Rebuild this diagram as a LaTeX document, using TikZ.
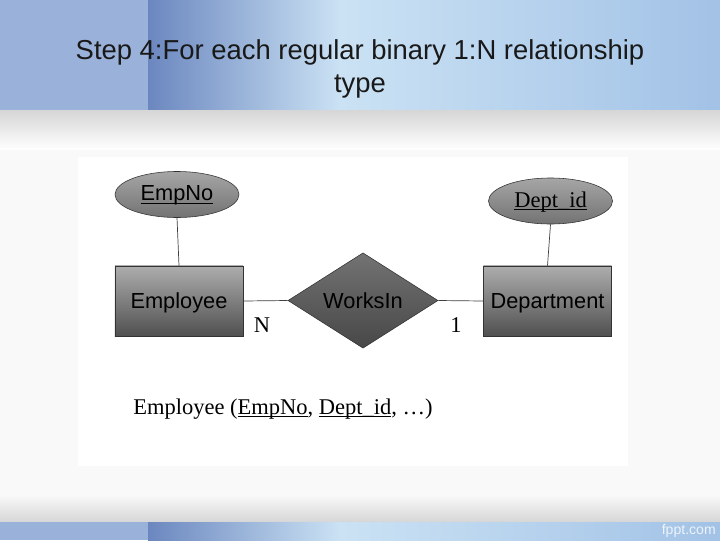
\documentclass[tikz,border=0pt]{standalone}
\usepackage{fontspec}
\setmainfont{Liberation Serif}
\setsansfont{Liberation Sans}
\usetikzlibrary{shapes.geometric}
\definecolor{bandside}{HTML}{9AB2DA}
\definecolor{banddark}{HTML}{6B87BF}
\definecolor{bandlight}{HTML}{CBE2F4}
\definecolor{bandright}{HTML}{A2C2E6}
\definecolor{pagegray}{HTML}{D6D6D6}
\definecolor{entitytop}{HTML}{ADADAD}
\definecolor{entitybottom}{HTML}{505050}
\newcommand{\entwidth}{3.2cm}
\newcommand{\entheight}{1.75cm}
\newcommand{\attwidth}{3.1cm}
\newcommand{\attheight}{1.15cm}
\newcommand{\relwidth}{3.75cm}
\newcommand{\relheight}{2.33cm}
\newcommand{\sanslabel}{\sffamily\fontsize{15.5}{18}\selectfont}
\newcommand{\seriflabel}{\rmfamily\fontsize{16}{18}\selectfont}
\newcommand{\keyattr}[1]{\underline{\raisebox{0pt}[\height][0.5pt]{#1}}}

\begin{document}
\begin{tikzpicture}[x=0.025cm,y=-0.025cm]
\tikzstyle{entity}=[draw=black!80,rectangle,top color=entitytop,bottom color=entitybottom,minimum width=\entwidth,minimum height=\entheight,inner sep=0pt,text depth=0pt,font=\sanslabel]
\tikzstyle{attrib}=[draw=black!80,ellipse,top color=black!35,bottom color=black!55,minimum width=\attwidth,minimum height=\attheight,inner sep=0pt]
\tikzstyle{relation}=[draw=black!80,diamond,top color=black!55,bottom color=black!72,minimum width=\relwidth,minimum height=\relheight,inner sep=0pt,text depth=0pt,font=\sanslabel]
\tikzstyle{link}=[draw=black!75,line width=0.5pt]

%% slide background
\useasboundingbox (0,0) rectangle (720,540);
\fill[white] (0,0) rectangle (720,540);
\fill[bandside] (0,0) rectangle (148,110);
\shade[left color=banddark,right color=bandlight] (148,0) rectangle (340,110);
\shade[left color=bandlight,right color=bandright] (340,0) rectangle (720,110);
\shade[top color=pagegray,bottom color=white] (0,110) rectangle (720,150);
\fill[gray!5] (0,150) rectangle (720,495);
\shade[top color=gray!5,bottom color=pagegray] (0,495) rectangle (720,522);
\fill[bandside] (0,522) rectangle (148,540);
\shade[left color=banddark,right color=bandlight] (148,522) rectangle (340,540);
\shade[left color=bandlight,right color=bandright] (340,522) rectangle (720,540);

%% title
\node (title) [anchor=north,inner sep=0pt,align=center,text=black!90,font=\sffamily\fontsize{19.5}{23.5}\selectfont] at (360,39)
  {Step 4:For each regular binary 1:N relationship\\type};

%% white panel
\fill[white] (78,157) rectangle (628,466);

%% entities and relationship
\node (Employee) [entity] at (179,301) {Employee};
\node (Department) [entity] at (547.5,301) {Department};
\node (WorksIn) [relation] at (363,300.5) {WorksIn};

%% key attributes
\node (EmpNo) [attrib,font=\sanslabel] at (177,194.5) {\keyattr{EmpNo}};
\node (DeptId) [attrib,font=\seriflabel] at (550.5,201) {\keyattr{Dept\_id}};

%% connectors
\draw[link] (EmpNo.south) -- (Employee.north);
\draw[link] (DeptId.south) -- (Department.north);
\draw[link] (Employee.east) -- (WorksIn.west);
\draw[link] (WorksIn.east) -- (Department.west);

%% cardinalities
\node (cardN) [font=\seriflabel,inner sep=0pt] at (262,325) {N};
\node (cardOne) [font=\seriflabel,inner sep=0pt] at (456,325) {1};

%% relation schema
\node (schema) [anchor=base west,inner sep=0pt,font=\seriflabel] at (133,414)
  {Employee (\keyattr{EmpNo}, \keyattr{Dept\_id}, …)};

%% footer
\node (footer) [anchor=east,inner sep=0pt,text=white!80!bandright,font=\sffamily\fontsize{10}{12}\selectfont] at (716,531) {fppt.com};
\end{tikzpicture}
\end{document}
